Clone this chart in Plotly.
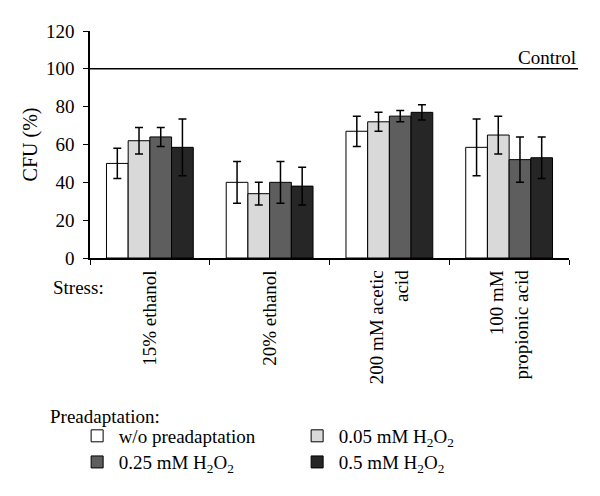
""" Recreate the CFU (%) bar chart after preadaptation with H2O2. """

import plotly.graph_objects as go

# Stress conditions (x-axis categories)
stresses = ["15% ethanol", "20% ethanol", "200 mM acetic<br>acid", "100 mM<br>propionic acid"]

# Preadaptation series: mean CFU (%) and error (+/-)
series_names = ["w/o preadaptation", "0.05 mM H<sub>2</sub>O<sub>2</sub>",
                "0.25 mM H<sub>2</sub>O<sub>2</sub>", "0.5 mM H<sub>2</sub>O<sub>2</sub>"]
wo_pre = [50, 40, 67, 58.5]
wo_pre_err = [8, 11, 8, 15]
h2o2_005 = [62, 34, 72, 65]
h2o2_005_err = [7, 6, 5, 10]
h2o2_025 = [64, 40, 75, 52]
h2o2_025_err = [5, 11, 3, 12]
h2o2_05 = [58.5, 38, 77, 53]
h2o2_05_err = [15, 10, 4, 11]

colors = ["#ffffff", "#d9d9d9", "#5e5e5e", "#262626"]
control_value = 100

font_family = "Liberation Serif, Times New Roman, serif"
fsize = 19

fig = go.Figure()
all_values = [wo_pre, h2o2_005, h2o2_025, h2o2_05]
all_errors = [wo_pre_err, h2o2_005_err, h2o2_025_err, h2o2_05_err]
legend_ids = ["legend", "legend", "legend2", "legend2"]   # two legend rows
for name, vals, errs, col, lg in zip(series_names, all_values, all_errors, colors, legend_ids):
    fig.add_trace(go.Bar(
        x=stresses, y=vals, name=name, legend=lg,
        marker=dict(color=col, line=dict(color="black", width=1)),
        error_y=dict(type="data", array=errs, color="black", thickness=1.5, width=4),
    ))

# Control line at 100 %
fig.add_shape(type="line", xref="paper", yref="y", x0=0, x1=1.019,
              y0=control_value, y1=control_value, line=dict(color="black", width=1.5))
fig.add_annotation(text="Control", xref="paper", yref="paper", x=1.019, y=0.885,
                   xanchor="right", yanchor="middle", showarrow=False,
                   font=dict(size=fsize, color="black", family=font_family))
fig.add_annotation(text="Stress:", xref="paper", yref="paper", x=0.033, y=-0.132,
                   xanchor="right", yanchor="middle", showarrow=False,
                   font=dict(size=fsize, color="black", family=font_family))
fig.add_annotation(text="Preadaptation:", xref="paper", yref="paper", x=-0.088, y=-0.698,
                   xanchor="left", yanchor="middle", showarrow=False,
                   font=dict(size=fsize, color="black", family=font_family))

legend_style = dict(orientation="h", xanchor="left", yanchor="middle",
                    entrywidth=172, itemwidth=33, font=dict(size=fsize, family=font_family),
                    traceorder="normal", bgcolor="rgba(0,0,0,0)")

# the page has an 8px body margin, so the plot area is set 8px up and left
fig.update_layout(
    width=600, height=496,
    margin=dict(l=82, r=39, t=23, b=246, autoexpand=False),
    plot_bgcolor="white", paper_bgcolor="white",
    font=dict(family=font_family, size=fsize, color="black"),
    barmode="group", bargap=0.275, bargroupgap=0,
    showlegend=True,
    legend=dict(x=-0.03, y=-0.784, **legend_style),
    legend2=dict(x=-0.03, y=-0.899, **legend_style),
)
fig.update_xaxes(showline=True, linecolor="black", linewidth=1.5, automargin=False,
                 ticks="outside", tickson="boundaries", ticklen=5, tickcolor="black",
                 ticklabelstandoff=3,
                 tickangle=-90, tickfont=dict(size=fsize, family=font_family))
fig.update_yaxes(range=[0, 120], dtick=20, showgrid=False, zeroline=False, automargin=False,
                 showline=True, linecolor="black", linewidth=1.5,
                 ticks="outside", ticklen=5, tickcolor="black", ticklabelstandoff=5,
                 title=dict(text="CFU (%)", standoff=3, font=dict(family=font_family, size=20)),
                 tickfont=dict(size=fsize, family=font_family))

fig.write_html("out.html")
